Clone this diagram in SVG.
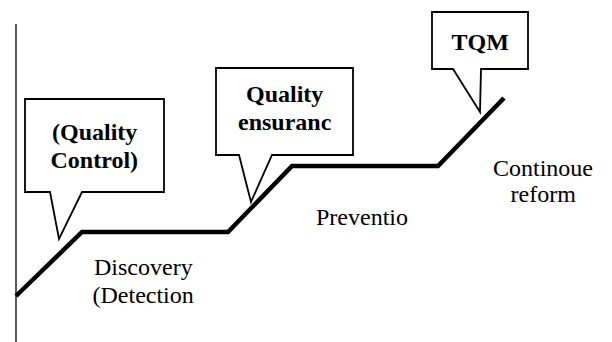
<svg xmlns="http://www.w3.org/2000/svg" width="612" height="342" viewBox="0 0 612 342">
<style>
.axis{stroke:#000;stroke-width:1.3;fill:none}
.path{stroke:#000;stroke-width:4.5;fill:none;stroke-linejoin:miter}
.callout{fill:#fff;stroke:#000;stroke-width:1.8}
</style>
<rect x="0" y="0" width="612" height="342" fill="#fff"/>
<g id="connectors">
<line class="axis" x1="16" y1="24" x2="16" y2="342"/>
<polyline class="path" points="16,296 82,232 228,232 292,166 438,166 504,98"/>
</g>
<g id="quality-control">
<path class="callout" d="M25,99 H164 V192 H82 L59,239 L50,192 H25 Z"/>
<text x="52" y="140" font-size="24" font-family="Liberation Serif" font-weight="bold">(Quality</text>
<text x="50.5" y="168" font-size="24" font-family="Liberation Serif" font-weight="bold">Control)</text>
</g>
<g id="quality-ensurance">
<path class="callout" d="M216,68 H353 V155 H272 L251,202 L239,155 H216 Z"/>
<text x="246" y="102" font-size="24" font-family="Liberation Serif" font-weight="bold">Quality</text>
<text x="238" y="130" font-size="24" font-family="Liberation Serif" font-weight="bold">ensuranc</text>
</g>
<g id="tqm">
<path class="callout" d="M432,12 H528 V69 H481 L480,112 L453,69 H432 Z"/>
<text x="451.5" y="50" font-size="24" font-family="Liberation Serif" font-weight="bold">TQM</text>
</g>
<g id="labels">
<text x="94" y="275" font-size="24" font-family="Liberation Serif">Discovery</text>
<text x="92.5" y="303" font-size="24" font-family="Liberation Serif">(Detection</text>
<text x="316" y="225" font-size="24" font-family="Liberation Serif">Preventio</text>
<text x="493" y="176" font-size="24" font-family="Liberation Serif">Continoue</text>
<text x="510.5" y="202" font-size="24" font-family="Liberation Serif">reform</text>
</g>
</svg>
